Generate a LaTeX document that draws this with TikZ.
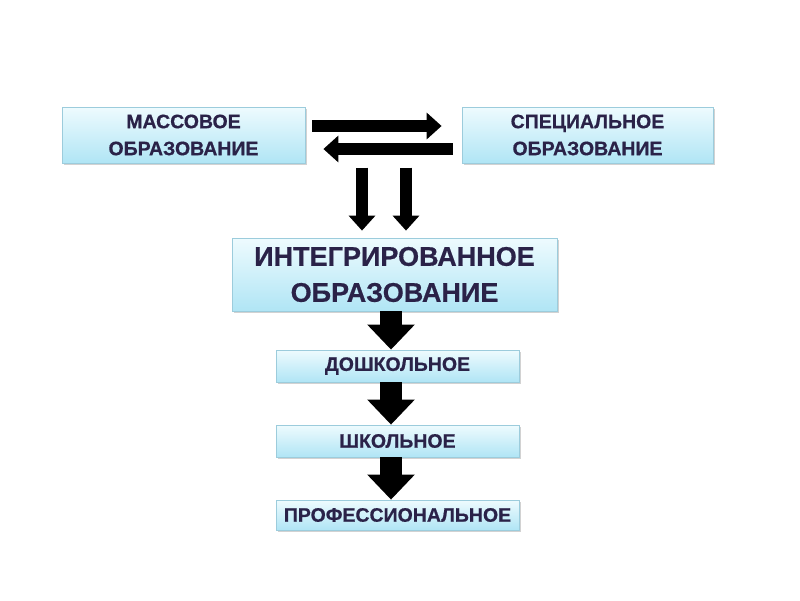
\documentclass[tikz,border=0pt]{standalone}
\usepackage{fontspec}
\setmainfont{Liberation Sans}[BoldFeatures={FakeBold=0.6}]
\usetikzlibrary{arrows.meta,shadows}
\definecolor{txt}{HTML}{2A2248}
\definecolor{boxtop}{HTML}{EEFBFE}
\definecolor{boxbot}{HTML}{B0E5F5}
\definecolor{boxline}{HTML}{9CCCDC}
\tikzset{
  box/.style={draw=boxline, line width=0.8pt, top color=boxtop, bottom color=boxbot,
    drop shadow={shadow xshift=1.5pt,shadow yshift=-2pt,opacity=0.35},
    text=txt, font=\bfseries\fontsize{19.5}{27}\selectfont, align=center, inner sep=0pt},
  bigbox/.style={box, font=\bfseries\fontsize{27}{36}\selectfont},
  thinarrow/.style={line width=12pt, -{Triangle[length=15pt,width=26pt]}},
  fatarrow/.style={line width=22pt, -{Triangle[length=25pt,width=46pt]}}
}
\begin{document}
\begin{tikzpicture}[x=1pt,y=-1pt]
\fill[white] (0,0) rectangle (800,600);
\path[use as bounding box] (0,0) rectangle (800,600);
\node[box, minimum width=243pt, minimum height=56pt] (m) at (183.5,135) {МАССОВОЕ\\ОБРАЗОВАНИЕ};
\node[box, minimum width=251pt, minimum height=56pt] (s) at (587.5,135) {СПЕЦИАЛЬНОЕ\\ОБРАЗОВАНИЕ};
\node[bigbox, minimum width=325pt, minimum height=73pt] (i) at (394.5,274.5) {ИНТЕГРИРОВАННОЕ\\ОБРАЗОВАНИЕ};
\node[box, minimum width=243pt, minimum height=32pt] (d) at (397.5,366) {ДОШКОЛЬНОЕ};
\node[box, minimum width=243pt, minimum height=32pt] (sh) at (397.5,441) {ШКОЛЬНОЕ};
\node[box, minimum width=243pt, minimum height=30pt] (p) at (397.5,515) {ПРОФЕССИОНАЛЬНОЕ};
\draw[thinarrow] ([shift={(7,-9)}]m.east) -- ([shift={(-20,-9)}]s.west);
\draw[thinarrow] ([shift={(-9,14)}]s.west) -- ([shift={(18,14)}]m.east);
\draw[thinarrow] ([shift={(-32.5,-70)}]i.north) -- ([shift={(-32.5,-7)}]i.north);
\draw[thinarrow] ([shift={(11.5,-70)}]i.north) -- ([shift={(11.5,-7)}]i.north);
\draw[fatarrow] ([xshift=-3.5pt]i.south) -- ([xshift=-6.5pt]d.north);
\draw[fatarrow] ([xshift=-6.5pt]d.south) -- ([xshift=-6.5pt]sh.north);
\draw[fatarrow] ([xshift=-6.5pt]sh.south) -- ([xshift=-6.5pt]p.north);
\end{tikzpicture}
\end{document}
